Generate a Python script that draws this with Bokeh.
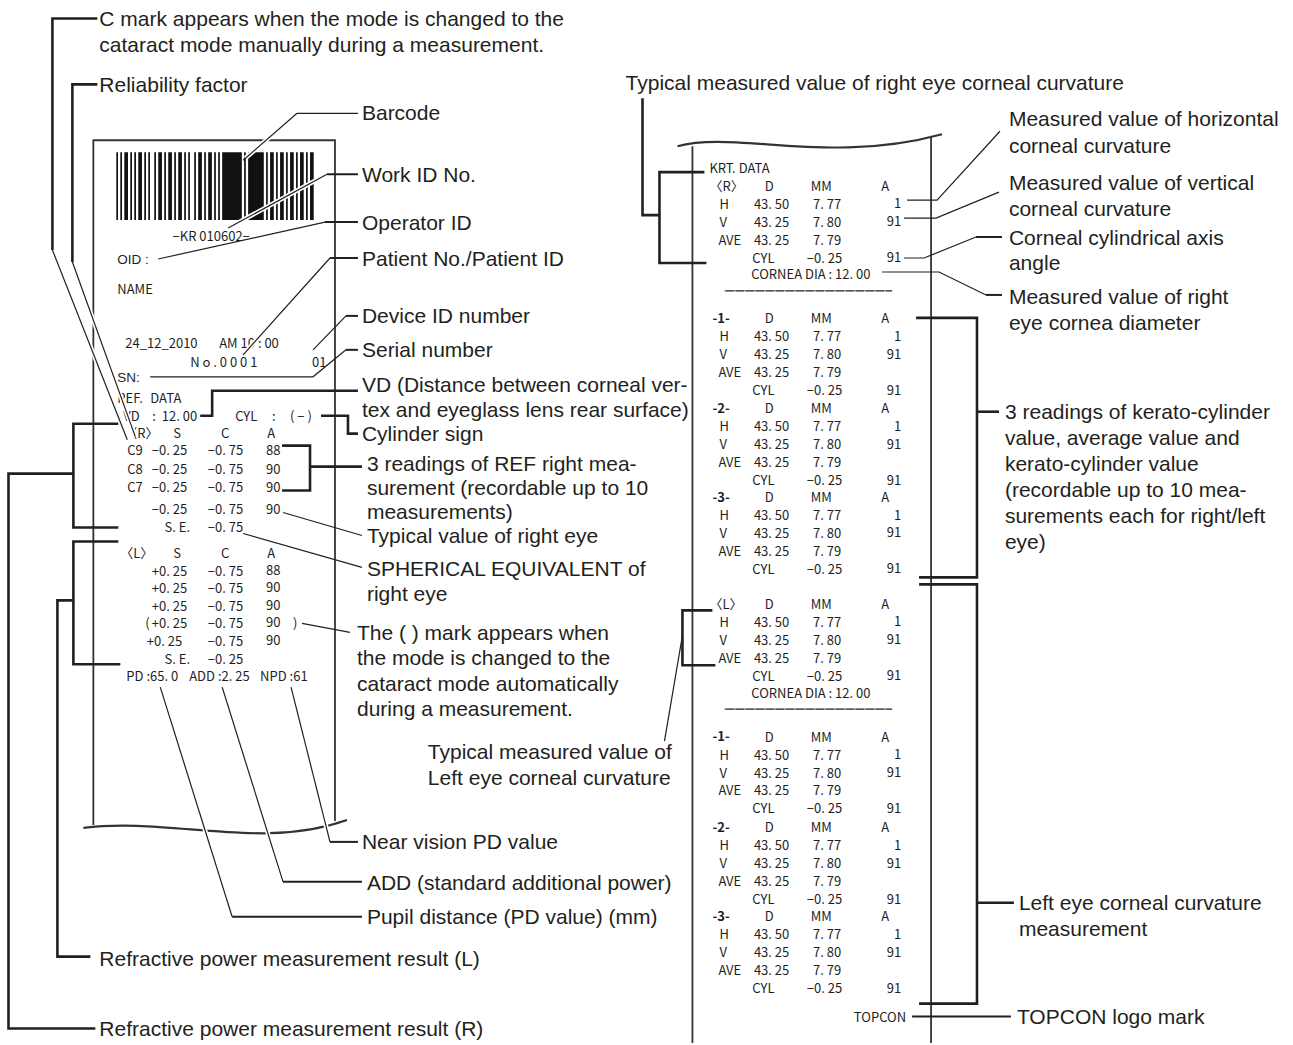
from bokeh.plotting import figure
from bokeh.models import ColumnDataSource, Range1d
from bokeh.core.properties import value
from bokeh.embed import file_html
from bokeh.resources import INLINE

LABEL_FONT = "Liberation Sans"
PRINT_FONT = "Noto Sans CJK JP"
INK = "#231f20"
PRINT_INK = "#1e1e1e"
LABEL_SIZE = "21px"
PRINT_SIZE = "13px"

# ---------------- data: callout labels ----------------
left_callouts = [
    ["C mark appears when the mode is changed to the", "cataract mode manually during a measurement."],
    ["Reliability factor"],
    ["Barcode"],
    ["Work ID No."],
    ["Operator ID"],
    ["Patient No./Patient ID"],
    ["Device ID number"],
    ["Serial number"],
    ["VD (Distance between corneal ver-", "tex and eyeglass lens rear surface)"],
    ["Cylinder sign"],
    ["3 readings of REF right mea-", "surement (recordable up to 10", "measurements)"],
    ["Typical value of right eye"],
    ["SPHERICAL EQUIVALENT of", "right eye"],
    ["The ( ) mark appears when", "the mode is changed to the", "cataract mode automatically", "during a measurement."],
    ["Near vision PD value"],
    ["ADD (standard additional power)"],
    ["Pupil distance (PD value) (mm)"],
    ["Refractive power measurement result (L)"],
    ["Refractive power measurement result (R)"],
]
right_callouts = [
    ["Typical measured value of right eye corneal curvature"],
    ["Measured value of horizontal", "corneal curvature"],
    ["Measured value of vertical", "corneal curvature"],
    ["Corneal cylindrical axis", "angle"],
    ["Measured value of right", "eye cornea diameter"],
    ["3 readings of kerato-cylinder", "value, average value and", "kerato-cylinder value",
     "(recordable up to 10 mea-", "surements each for right/left", "eye)"],
    ["Typical measured value of", "Left eye corneal curvature"],
    ["Left eye corneal curvature", "measurement"],
    ["TOPCON logo mark"],
]

# ---------------- data: REF printout (left slip) ----------------
work_id = "−KR 010602−"
print_date = "24_12_2010"
print_time = "AM 10 :  00"
patient_no = "N o . 0 0 0 1"
device_id = "01"
vd_value = "12. 00"
cyl_sign = "( − )"
ref_cols = ["S", "C", "A"]
ref_r_marks = ["C9", "C8", "C7"]
ref_r_S = ["−0. 25", "−0. 25", "−0. 25"]
ref_r_C = ["−0. 75", "−0. 75", "−0. 75"]
ref_r_A = ["88", "90", "90"]
ref_r_typical = ["−0. 25", "−0. 75", "90"]
ref_r_se = "−0. 75"
ref_l_S = ["+0. 25", "+0. 25", "+0. 25", "+0. 25", "+0. 25"]
ref_l_C = ["−0. 75", "−0. 75", "−0. 75", "−0. 75", "−0. 75"]
ref_l_A = ["88", "90", "90", "90", "90"]
ref_l_se = "−0. 25"
pd_value = "PD :65. 0"
add_value = "ADD :2. 25"
npd_value = "NPD :61"

# ---------------- data: KRT printout (right slip) ----------------
krt_blocks = ["〈R〉", "-1-", "-2-", "-3-", "〈L〉", "-1-", "-2-", "-3-"]
krt_cols = ["D", "MM", "A"]
krt_rows = ["H", "V", "AVE"]
krt_D = ["43. 50", "43. 25", "43. 25"]
krt_MM = ["7. 77", "7. 80", "7. 79"]
krt_A = ["1", "91", ""]
krt_cyl = "−0. 25"
krt_cyl_A = "91"
cornea_dia = "CORNEA DIA : 12. 00"

# barcode modules (1 = black)
barcode_pattern = ("10101101010110101001011010110101101010010110101101010"
                   "1111111111" "0" "1" "0" "11111111"
                   "0101101011010110101101011")

# ---------------- figure ----------------
p = figure(width=1291, height=1043, x_range=Range1d(0, 1293), y_range=Range1d(1045, 0),
           output_backend="svg", toolbar_location=None, min_border=0)
p.axis.visible = False
p.grid.visible = False
p.outline_line_color = None
p.background_fill_color = "white"
p.border_fill_color = "white"


def txt(xs, ys, texts, size=PRINT_SIZE, font=PRINT_FONT, align="left", color=PRINT_INK, style="normal"):
    src = ColumnDataSource(dict(x=list(xs), y=list(ys), t=list(texts)))
    p.text(x="x", y="y", text="t", source=src, text_align=align, text_baseline="middle",
           text_font=value(font), text_font_size=size, text_color=color, text_font_style=style)


def draw(paths, width, color=INK):
    p.multi_line(xs=[[q[0] for q in path] for path in paths],
                 ys=[[q[1] for q in path] for path in paths],
                 line_width=width, line_color=color, line_join="miter", line_cap="butt")


# ---------------- slips (paper outlines) ----------------
PAPER = "#333333"
draw([[(93, 826), (93, 140), (335, 140), (335, 822)]], 1.8, PAPER)
p.bezier(x0=[83], y0=[829], x1=[347], y1=[821], cx0=[170], cy0=[818], cx1=[260], cy1=[852],
         line_width=2.2, line_color=PAPER)
draw([[(693, 146), (693, 1045)], [(932, 137), (932, 1045)]], 1.8, PAPER)
p.bezier(x0=[678], y0=[146], x1=[943], y1=[134], cx0=[735], cy0=[130], cx1=[830], cy1=[165],
         line_width=2.2, line_color=PAPER)

# barcode
bx0, bx1, btop, bbot = 116, 314, 152, 220
mw = (bx1 - bx0) / len(barcode_pattern)
lefts, rights = [], []
i = 0
while i < len(barcode_pattern):
    if barcode_pattern[i] == "1":
        j = i
        while j < len(barcode_pattern) and barcode_pattern[j] == "1":
            j += 1
        lefts.append(bx0 + i * mw)
        rights.append(bx0 + j * mw - 0.3)
        i = j
    else:
        i += 1
p.quad(left=lefts, right=rights, top=[btop] * len(lefts), bottom=[bbot] * len(lefts),
       fill_color="#111111", line_color=None)

# ---------------- left slip texts ----------------
txt([211], [235], [work_id], align="center")
txt([117, 117], [259, 378], ["OID :", "SN:"], size="13.5px", font=LABEL_FONT)
txt([117], [289], ["NAME"])
txt([125, 219], [343, 343], [print_date, print_time])
txt([190, 312], [362, 362], [patient_no, device_id])
txt([117, 150], [398, 398], ["REF.", "DATA"])
txt([123, 152, 235, 272, 290], [416] * 5, ["VD", ":", "CYL", ":", cyl_sign])
txt([197], [416], [vd_value], align="right")

# right eye block
r_head_y = 433
r_rows_y = [450, 469, 487]
txt([124], [r_head_y], ["〈R〉"])
txt([177, 225, 271], [r_head_y] * 3, ref_cols, align="center")
txt([127] * 3, r_rows_y, ref_r_marks)
txt([187] * 3, r_rows_y, ref_r_S, align="right")
txt([243] * 3, r_rows_y, ref_r_C, align="right")
txt([266] * 3, r_rows_y, ref_r_A)
txt([187, 243], [509, 509], ref_r_typical[:2], align="right")
txt([266], [509], ref_r_typical[2:])
txt([177], [527], ["S. E."], align="center")
txt([243], [527], [ref_r_se], align="right")

# left eye block
l_head_y = 553
l_rows_y = [571, 588, 606, 623, 641]
txt([120], [l_head_y], ["〈L〉"])
txt([177, 225, 271], [l_head_y] * 3, ref_cols, align="center")
txt([187, 187, 187, 187, 182], l_rows_y, ref_l_S, align="right")
txt([243] * 5, l_rows_y, ref_l_C, align="right")
txt([266] * 5, l_rows_y, ref_l_A)
txt([145, 293], [623, 623], ["(", ")"])
txt([177], [659], ["S. E."], align="center")
txt([243], [659], [ref_l_se], align="right")
txt([126, 189, 260], [676] * 3, [pd_value, add_value, npd_value])

# ---------------- right slip texts ----------------
txt([710], [167], ["KRT. DATA"])
block_y = [185, 318, 408, 497, 604, 737, 828, 917]
ROW = 18
for lab, y0 in zip(krt_blocks, block_y):
    bold = "bold" if lab.startswith("-") else "normal"
    txt([710 if lab.startswith("〈") else 713], [y0], [lab], style=bold)
    txt([770, 822, 886], [y0] * 3, krt_cols, align="center")
    ys = [y0 + ROW * (r + 1) for r in range(3)]
    txt([720, 720, 719], ys, krt_rows)
    txt([790] * 3, ys, krt_D, align="right")
    txt([842] * 3, ys, krt_MM, align="right")
    txt([902] * 3, ys, krt_A, align="right")
    yc = y0 + ROW * 4
    txt([753], [yc], ["CYL"])
    txt([843], [yc], [krt_cyl], align="right")
    txt([902], [yc], [krt_cyl_A], align="right")
    if lab.startswith("〈"):
        txt([752], [y0 + 89], [cornea_dia])
        draw([[(725, y0 + 106), (893, y0 + 106)]], 1.3, PRINT_INK)
txt([907], [1018], ["TOPCON"], align="right")

# dashed separator look
p.multi_line(xs=[[725, 893], [725, 893]], ys=[[291, 291], [710, 710]], line_width=1.4,
             line_color="white", line_dash="1 9", line_dash_offset=0)

# ---------------- callout labels ----------------
left_pos = [(99, [18, 44]), (99, [84]), (362, [112]), (362, [174]), (362, [222]), (362, [258]),
            (362, [316]), (362, [350]), (362, [385, 410]), (362, [434]), (367, [464, 488, 512]),
            (367, [536]), (367, [569, 594]), (357, [633, 658, 684, 709]), (362, [843]),
            (367, [884]), (367, [918]), (99, [960]), (99, [1030])]
right_pos = [(626, [82]), (1010, [118, 145]), (1010, [182, 208]), (1010, [237, 263]),
             (1010, [297, 323]), (1006, [412, 438, 464, 490, 516, 542]), (428, [752, 778]),
             (1020, [904, 930]), (1018, [1018])]
for lines, (x, ys) in zip(left_callouts + right_callouts, left_pos + right_pos):
    txt([x] * len(lines), ys, lines, size=LABEL_SIZE, font=LABEL_FONT, color=INK)

# ---------------- leader lines ----------------
THIN, MID, THICK = 1.2, 2.0, 2.6
crossing = [
    [(52, 250), (127, 440)],
    [(72, 262), (135, 437)],
    [(243, 160), (297, 113)],
    [(228, 228), (327, 174)],
    [(243, 355), (330, 258)],
    [(291, 688), (330, 843)],
    [(222, 688), (283, 883)],
    [(160, 688), (232, 918)],
]
# white halo where leaders cross print and paper edges
draw([[(a[0] + (b[0] - a[0]) * 0.04, a[1] + (b[1] - a[1]) * 0.04), b] for a, b in crossing], 4.5, "white")
draw(crossing + [
    [(297, 113), (358, 113)],
    [(158, 259), (325, 222)],
    [(313, 350), (346, 316)],
    [(150, 377), (313, 377), (346, 350)],
    [(283, 513), (362, 536)],
    [(243, 534), (362, 568)],
    [(302, 624), (350, 633)],
    [(908, 200), (938, 200), (1001, 131)],
    [(905, 218), (937, 218), (1000, 192)],
    [(905, 258), (925, 258), (977, 237)],
    [(883, 272), (940, 272), (987, 295)],
    [(665, 742), (683, 636)],
], THIN)
draw([
    [(327, 174), (358, 174)],
    [(325, 222), (358, 222)],
    [(330, 258), (358, 258)],
    [(346, 316), (358, 316)],
    [(346, 350), (358, 350)],
    [(330, 843), (358, 843)],
    [(283, 883), (362, 883)],
    [(232, 918), (362, 918)],
    [(977, 237), (1003, 237)],
    [(987, 295), (1003, 295)],
    [(913, 1018), (1012, 1018)],
], MID)
draw([
    [(97, 18), (52, 18), (52, 250)],
    [(97, 84), (72, 84), (72, 262)],
    [(200, 416), (212, 416), (212, 391), (358, 391)],
    [(321, 416), (348, 416), (348, 434), (358, 434)],
    [(282, 446), (310, 446), (310, 491), (282, 491)],
    [(310, 467), (362, 467)],
    [(118, 424), (73, 424), (73, 528), (118, 528)],
    [(73, 474), (8, 474), (8, 1030), (95, 1030)],
    [(118, 542), (73, 542), (73, 665), (120, 665)],
    [(73, 601), (57, 601), (57, 958), (90, 958)],
    [(705, 172), (660, 172), (660, 263), (707, 263)],
    [(660, 215), (643, 215), (643, 98)],
    [(917, 318), (978, 318), (978, 578), (920, 578)],
    [(978, 412), (1000, 412)],
    [(920, 585), (978, 585), (978, 1005), (920, 1005)],
    [(978, 904), (1015, 904)],
    [(713, 611), (683, 611), (683, 666), (716, 666)],
], THICK)

open("out.html", "w").write(file_html(p, INLINE))
